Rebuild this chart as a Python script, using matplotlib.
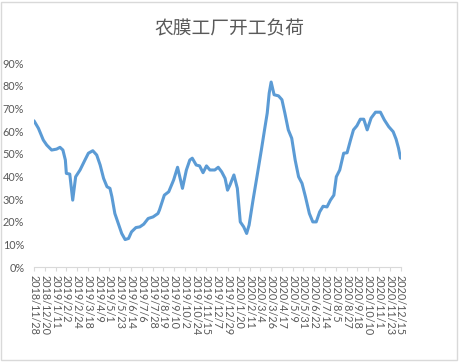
import matplotlib
matplotlib.use("Agg")
import matplotlib.pyplot as plt
import pandas as pd

plt.rcParams['font.family'] = ['Noto Sans CJK SC', 'DejaVu Sans']

title = "农膜工厂开工负荷"

# dates and load rate (%)
dates = [
    "2018-11-28", "2018-12-07", "2018-12-17", "2018-12-24", "2019-01-03", "2019-01-13",
    "2019-01-20", "2019-01-26", "2019-01-31", "2019-02-02", "2019-02-09", "2019-02-15",
    "2019-02-21", "2019-03-02", "2019-03-12", "2019-03-19", "2019-03-28", "2019-04-05",
    "2019-04-12", "2019-04-19", "2019-04-26", "2019-05-02", "2019-05-06", "2019-05-12",
    "2019-05-19", "2019-05-26", "2019-06-02", "2019-06-09", "2019-06-15", "2019-06-24",
    "2019-07-02", "2019-07-10", "2019-07-19", "2019-07-29", "2019-08-08", "2019-08-11",
    "2019-08-21", "2019-08-30", "2019-09-09", "2019-09-17", "2019-09-27", "2019-10-05",
    "2019-10-12", "2019-10-17", "2019-10-25", "2019-11-01", "2019-11-08", "2019-11-15",
    "2019-11-22", "2019-12-02", "2019-12-09", "2019-12-16", "2019-12-23", "2019-12-28",
    "2020-01-02", "2020-01-10", "2020-01-17", "2020-01-23", "2020-01-30", "2020-02-05",
    "2020-02-10", "2020-02-18", "2020-02-26", "2020-03-06", "2020-03-13", "2020-03-18",
    "2020-03-22", "2020-03-26", "2020-04-01", "2020-04-10", "2020-04-17", "2020-04-23",
    "2020-04-30", "2020-05-07", "2020-05-14", "2020-05-21", "2020-05-28", "2020-06-04",
    "2020-06-12", "2020-06-19", "2020-06-26", "2020-07-03", "2020-07-10", "2020-07-18",
    "2020-07-25", "2020-08-01", "2020-08-06", "2020-08-13", "2020-08-21", "2020-08-28",
    "2020-09-04", "2020-09-10", "2020-09-17", "2020-09-24", "2020-10-01", "2020-10-08",
    "2020-10-16", "2020-10-25", "2020-11-04", "2020-11-12", "2020-11-21", "2020-11-30",
    "2020-12-06", "2020-12-11", "2020-12-15",
]
load = [
    64.5, 61.2, 56.0, 53.8, 51.6, 52.0,
    52.8, 51.6, 47.2, 41.3, 41.0, 29.5,
    39.8, 42.8, 47.2, 50.2, 51.3, 49.4,
    45.0, 39.1, 35.4, 34.7, 31.0, 23.6,
    19.2, 14.8, 12.1, 12.6, 15.5, 17.4,
    17.7, 18.9, 21.4, 22.1, 23.6, 25.1,
    31.7, 33.2, 38.4, 44.0, 34.7, 42.8,
    47.2, 48.0, 45.0, 44.6, 41.6, 44.6,
    42.8, 42.8, 44.0, 42.0, 39.1, 33.9,
    36.2, 40.6, 34.7, 19.9, 17.7, 14.8,
    18.5, 29.5, 39.8, 51.6, 61.2, 67.9,
    76.7, 81.6, 76.0, 75.5, 73.8, 67.9,
    60.5, 56.8, 47.2, 39.8, 36.9, 31.0,
    23.6, 19.9, 19.9, 24.3, 26.8, 26.5,
    29.5, 31.7, 39.8, 42.8, 50.2, 50.4,
    56.0, 60.5, 62.3, 65.2, 65.2, 60.5,
    65.7, 68.3, 68.3, 64.9, 61.9, 59.7,
    56.4, 52.4, 48.0,
]

tick_labels = [
    "2018/11/28", "2018/12/20", "2019/1/11", "2019/2/2", "2019/2/24", "2019/3/18",
    "2019/4/9", "2019/5/1", "2019/5/23", "2019/6/14", "2019/7/6", "2019/7/28",
    "2019/8/19", "2019/9/10", "2019/10/2", "2019/10/24", "2019/11/15", "2019/12/7",
    "2019/12/29", "2020/1/20", "2020/2/11", "2020/3/4", "2020/3/26", "2020/4/17",
    "2020/5/9", "2020/5/31", "2020/6/22", "2020/7/14", "2020/8/5", "2020/8/27",
    "2020/9/18", "2020/10/10", "2020/11/1", "2020/11/23", "2020/12/15",
]
yticks = [0, 10, 20, 30, 40, 50, 60, 70, 80, 90]

x = pd.to_datetime(dates)
tick_pos = pd.to_datetime(tick_labels, format="%Y/%m/%d")

fig = plt.figure(figsize=(4.59, 3.63), dpi=100)
ax = fig.add_axes([34 / 459, (363 - 267) / 363, (400.5 - 34) / 459, (267 - 63) / 363])

ax.plot(x, load, color="#5B9BD5", lw=2.2, solid_capstyle="round")

ax.set_xlim(tick_pos[0], tick_pos[-1])
ax.set_xticks(tick_pos)
ax.set_xticklabels(tick_labels, rotation=-90, fontsize=7.8, color="#595959",
                   family=["Lato", "DejaVu Sans"])
ax.set_ylim(0, 90)
ax.set_yticks(yticks)
ax.set_yticklabels([f"{v}%" for v in yticks], fontsize=7.8, color="#595959",
                   family=["Lato", "DejaVu Sans"])

ax.tick_params(axis="x", length=3, color="#d9d9d9", pad=3)
ax.tick_params(axis="y", length=0, pad=7)
for s in ["top", "right", "left"]:
    ax.spines[s].set_visible(False)
ax.spines["bottom"].set_color("#d9d9d9")

fig.text(229 / 459, 1 - 29 / 363, title, ha="center", va="center",
         fontsize=13.5, color="#595959")

# chart border
fig.patches.append(plt.Rectangle((1 / 459, 3 / 363), 456 / 459, 358 / 363,
                                 transform=fig.transFigure, fill=False,
                                 edgecolor="#d9d9d9", lw=1))

fig.savefig("out.png", dpi=100)
